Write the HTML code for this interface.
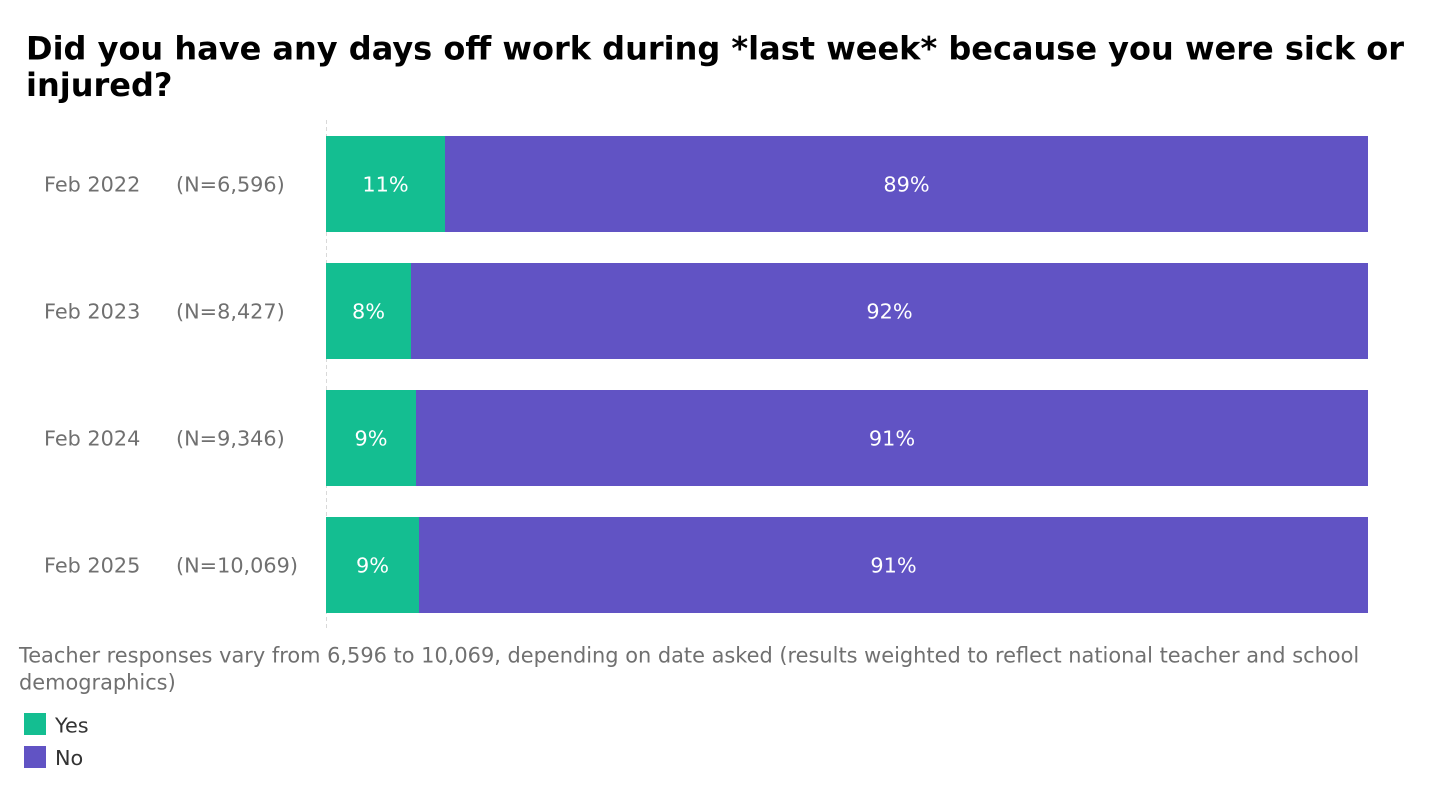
<!DOCTYPE html>
<html>
<head>
<meta charset="utf-8">
<style>
  html, body { margin: 0; padding: 0; background: #ffffff; }
  body { width: 1440px; height: 800px; overflow: hidden; }
  svg { display: block; }
  text { font-family: "DejaVu Sans", "Liberation Sans", sans-serif; }
</style>
</head>
<body>
<svg width="1440" height="800" viewBox="0 0 1440 800" xmlns="http://www.w3.org/2000/svg">
  <rect x="0" y="0" width="1440" height="800" fill="#ffffff"/>

  <!-- Title -->
  <text x="26" y="59.5" font-size="32" font-weight="bold" fill="#000000">Did you have any days off work during *last week* because you were sick or</text>
  <text x="26" y="96" font-size="32" font-weight="bold" fill="#000000">injured?</text>

  <!-- Axis dashed line -->
  <line x1="326.5" y1="120" x2="326.5" y2="629" stroke="#d9d9d9" stroke-width="1" stroke-dasharray="4,3"/>

  <!-- Bars -->
  <g>
    <rect x="326" y="136" width="119" height="96" fill="#14be91"/>
    <rect x="445" y="136" width="923" height="96" fill="#6153c4"/>

    <rect x="326" y="263" width="85" height="96" fill="#14be91"/>
    <rect x="411" y="263" width="957" height="96" fill="#6153c4"/>

    <rect x="326" y="390" width="90" height="96" fill="#14be91"/>
    <rect x="416" y="390" width="952" height="96" fill="#6153c4"/>

    <rect x="326" y="517" width="93" height="96" fill="#14be91"/>
    <rect x="419" y="517" width="949" height="96" fill="#6153c4"/>
  </g>

  <!-- Bar labels -->
  <g font-size="20.8" fill="#ffffff" text-anchor="middle">
    <text x="385.5" y="191.5">11%</text>
    <text x="906.5" y="191.5">89%</text>

    <text x="368.5" y="318.5">8%</text>
    <text x="889.5" y="318.5">92%</text>

    <text x="371" y="445.5">9%</text>
    <text x="892" y="445.5">91%</text>

    <text x="372.5" y="572.5">9%</text>
    <text x="893.5" y="572.5">91%</text>
  </g>

  <!-- Row labels -->
  <g font-size="20.8" fill="#707070">
    <text x="44" y="191.5">Feb 2022</text>
    <text x="176" y="191.5">(N=6,596)</text>

    <text x="44" y="318.5">Feb 2023</text>
    <text x="176" y="318.5">(N=8,427)</text>

    <text x="44" y="445.5">Feb 2024</text>
    <text x="176" y="445.5">(N=9,346)</text>

    <text x="44" y="572.5">Feb 2025</text>
    <text x="176" y="572.5">(N=10,069)</text>
  </g>

  <!-- Footnote -->
  <g font-size="20.9" fill="#707070">
    <text x="19" y="662.5">Teacher responses vary from 6,596 to 10,069, depending on date asked (results weighted to reflect national teacher and school</text>
    <text x="19" y="689.5">demographics)</text>
  </g>

  <!-- Legend -->
  <rect x="24" y="713" width="22" height="22" fill="#14be91"/>
  <text x="55" y="732.5" font-size="20.8" fill="#333333">Yes</text>
  <rect x="24" y="746" width="22" height="22" fill="#6153c4"/>
  <text x="55" y="765" font-size="20.8" fill="#333333">No</text>
</svg>
</body>
</html>
